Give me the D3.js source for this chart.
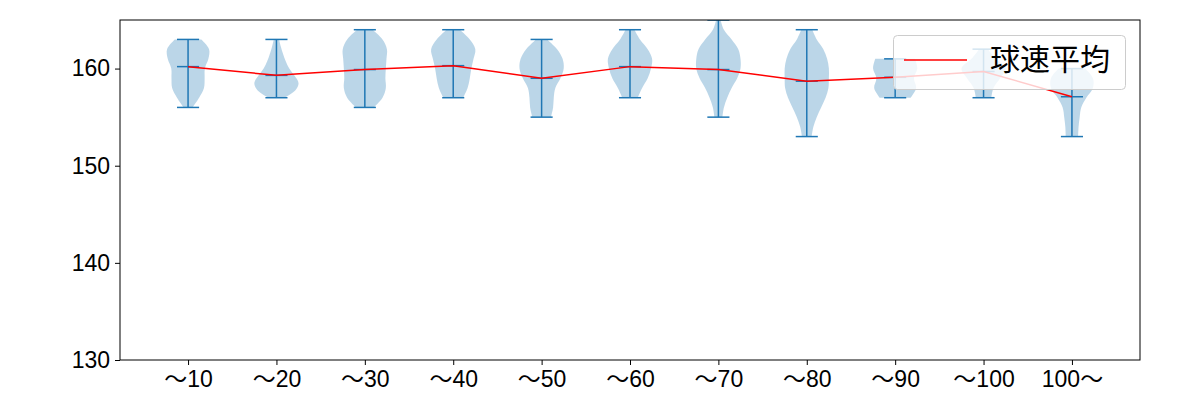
<!DOCTYPE html>
<html>
<head>
<meta charset="utf-8">
<script src="https://cdn.jsdelivr.net/npm/d3@7"></script>
<style>
  html, body { margin: 0; padding: 0; background: #fff; }
  svg { display: block; }
  text { font-family: "Noto Sans CJK JP", "Noto Sans", sans-serif; }
</style>
</head>
<body>
<svg id="chart" width="1200" height="400"></svg>
<script>
// ---- data ----
const categories = ["～10", "～20", "～30", "～40", "～50", "～60", "～70", "～80", "～90", "～100", "100～"];
const means = [160.2, 159.3, 159.9, 160.3, 159.0, 160.2, 159.9, 158.7, 159.1, 159.7, 157.1];
const maxs  = [163, 163, 164, 164, 163, 164, 165, 164, 161, 162, 160];
const mins  = [156, 157, 156, 157, 155, 157, 155, 153, 157, 157, 153];
// relative violin widths, evenly spaced from max (first) down to min (last)
const densities = [
  [0.6, 0.95, 0.92, 0.76, 0.75, 0.72, 0.5, 0.2],
  [0.12, 0.2, 0.3, 0.42, 0.58, 0.82, 1.0, 0.85, 0.35],
  [0.35, 0.8, 1.0, 0.98, 0.95, 0.93, 0.95, 0.8, 0.4],
  [0.3, 0.75, 1.0, 0.92, 0.82, 0.75, 0.65, 0.45],
  [0.25, 0.7, 0.95, 1.0, 0.85, 0.62, 0.55, 0.52, 0.42],
  [0.2, 0.45, 0.8, 1.0, 0.95, 0.8, 0.55, 0.35],
  [0.1, 0.25, 0.6, 0.9, 1.0, 1.0, 0.85, 0.6, 0.4, 0.25, 0.18],
  [0.25, 0.45, 0.75, 0.92, 1.0, 1.0, 0.98, 0.85, 0.65, 0.45, 0.3, 0.22],
  [0.9, 1.0, 0.85, 0.95, 0.7],
  [0.2, 0.55, 1.0, 0.75, 0.45, 0.35],
  [0.6, 0.95, 0.95, 0.65, 0.42, 0.35, 0.3, 0.28]
];
const yTicks = [130, 140, 150, 160];
const legendLabel = "球速平均";

(function () {
// ---- layout ----
const svg = d3.select("#chart");
const mLeft = 120, mRight = 1140, mTop = 20, mBottom = 360;
const blue = "#1f77b4";

const x = d3.scalePoint().domain(categories).range([mLeft, mRight]).padding(0.77);
const y = d3.scaleLinear().domain([130, 165]).range([mBottom, mTop]);
const halfW = x.step() * 0.25;
const capW = x.step() * 0.125;

svg.append("defs").append("clipPath").attr("id", "clip")
  .append("rect").attr("x", mLeft).attr("y", mTop).attr("width", mRight - mLeft).attr("height", mBottom - mTop);

const plot = svg.append("g").attr("clip-path", "url(#clip)");

categories.forEach((c, i) => {
  const cx = x(c);
  const dens = densities[i];
  const n = dens.length;
  const pts = dens.map((w, k) => ({ v: maxs[i] - (maxs[i] - mins[i]) * k / (n - 1), w }));
  const area = d3.area()
    .y(d => y(d.v))
    .x0(d => cx - d.w * halfW)
    .x1(d => cx + d.w * halfW)
    .curve(d3.curveCatmullRom.alpha(0.5));
  plot.append("path").attr("d", area(pts))
    .attr("fill", blue).attr("fill-opacity", 0.3).attr("stroke", "none");
});

categories.forEach((c, i) => {
  const cx = x(c);
  const g = plot.append("g").attr("stroke", blue).attr("stroke-width", 1.5);
  g.append("line").attr("x1", cx).attr("x2", cx).attr("y1", y(maxs[i])).attr("y2", y(mins[i]));
  [maxs[i], mins[i], means[i]].forEach(v => {
    g.append("line").attr("x1", cx - capW).attr("x2", cx + capW).attr("y1", y(v)).attr("y2", y(v));
  });
});

// mean line
const line = d3.line().x((d, i) => x(categories[i])).y(d => y(d));
plot.append("path").attr("d", line(means))
  .attr("fill", "none").attr("stroke", "red").attr("stroke-width", 1.5);

// axes
const xAxis = d3.axisBottom(x).tickSizeOuter(0).tickSize(5).tickPadding(5);
const yAxis = d3.axisLeft(y).tickValues(yTicks).tickSizeOuter(0).tickSize(5).tickPadding(5);

const gx = svg.append("g").attr("transform", `translate(0,${mBottom})`).call(xAxis);
const gy = svg.append("g").attr("transform", `translate(${mLeft},0)`).call(yAxis);
[gx, gy].forEach(g => {
  g.select(".domain").remove();
  g.selectAll("line").attr("stroke", "#000").attr("stroke-width", 1);
  g.selectAll("text").attr("fill", "#000").style("font-size", "23px")
    .style("font-family", '"Liberation Sans", "Noto Sans CJK JP", sans-serif');
});
gx.selectAll("text").attr("dy", "0.72em");

// frame
svg.append("rect").attr("x", mLeft).attr("y", mTop).attr("width", mRight - mLeft).attr("height", mBottom - mTop)
  .attr("fill", "none").attr("stroke", "#000").attr("stroke-width", 1);

// legend
const lg = svg.append("g");
lg.append("rect").attr("x", 893.5).attr("y", 35.5).attr("width", 232).attr("height", 54)
  .attr("rx", 4).attr("fill", "#fff").attr("fill-opacity", 0.8)
  .attr("stroke", "#ccc").attr("stroke-width", 1);
lg.append("line").attr("x1", 904).attr("x2", 967).attr("y1", 60).attr("y2", 60)
  .attr("stroke", "red").attr("stroke-width", 1.5);
lg.append("text").attr("x", 990).attr("y", 59).attr("dy", "0.35em")
  .style("font-size", "30px").attr("fill", "#000").text(legendLabel);
})();
</script>
</body>
</html>
